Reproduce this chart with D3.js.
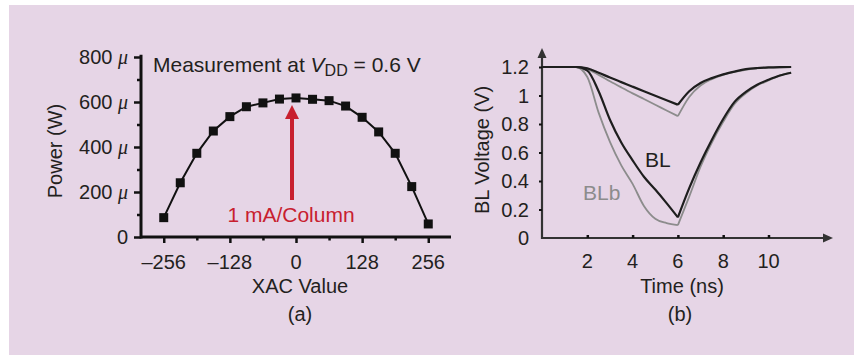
<!DOCTYPE html>
<html lang="en">
<head>
<meta charset="UTF-8">
<script src="https://d3js.org/d3.v7.min.js"></script>
<title>XAC power and BL voltage</title>
<style>
  body { margin: 0; background: #fff; }
  text { font-family: "Liberation Sans", Arial, Helvetica, sans-serif; fill: #231f20; font-size: 20px; }
</style>
</head>
<body>
<div id="chart"></div>
<script>
// ---- panel (a): measured power vs XAC value (uW) ----
var xacValues = [-256, -224, -192, -160, -128, -96, -64, -32, 0, 32, 64, 96, 128, 160, 192, 224, 256];
var powerValues = [86, 241, 372, 471, 535, 579, 596, 613, 618, 612, 606, 582, 532, 467, 372, 224, 58];
var powerTicks = [0, 200, 400, 600, 800];
var powerMinor = [100, 300, 500, 700];
var xacTicks = [-256, -128, 0, 128, 256];
var xacMinor = [-192, -64, 64, 192];

// ---- panel (b): BL / BLb transients (V) ----
var timeFall = [0, 1.5, 2, 2.5, 3, 3.5, 4, 4.5, 5, 5.5, 6];
var timeRise = [6, 6.5, 7, 7.5, 8, 8.5, 9, 9.5, 10, 10.5, 11];
var blSmallFall  = [1.2, 1.2, 1.19, 1.16, 1.126, 1.094, 1.062, 1.03, 0.998, 0.967, 0.935];
var blSmallRise  = [0.935, 1.03, 1.088, 1.122, 1.148, 1.168, 1.185, 1.193, 1.197, 1.199, 1.2];
var blbSmallFall = [1.2, 1.2, 1.185, 1.145, 1.1, 1.057, 1.015, 0.975, 0.935, 0.895, 0.855];
var blbSmallRise = [0.855, 0.99, 1.07, 1.115, 1.145, 1.165, 1.18, 1.19, 1.195, 1.198, 1.2];
var blLargeFall  = [1.2, 1.2, 1.175, 1.03, 0.83, 0.67, 0.545, 0.43, 0.34, 0.245, 0.145];
var blLargeRise  = [0.145, 0.35, 0.53, 0.69, 0.835, 0.955, 1.025, 1.075, 1.11, 1.14, 1.16];
var blbLargeFall = [1.2, 1.2, 1.13, 0.88, 0.675, 0.51, 0.38, 0.225, 0.135, 0.105, 0.09];
var blbLargeRise = [0.09, 0.29, 0.5, 0.67, 0.815, 0.94, 1.015, 1.07, 1.105, 1.14, 1.16];
var voltTicks = [0, 0.2, 0.4, 0.6, 0.8, 1, 1.2];
var timeTicks = [2, 4, 6, 8, 10];

var width = 859, height = 356;
var svg = d3.select("#chart").append("svg").attr("width", width).attr("height", height);

svg.append("rect").attr("x", 9).attr("y", 5).attr("width", 845).attr("height", 350)
    .attr("fill", "#e6d5e6");

//---------------- panel (a)
var xa = d3.scaleLinear().domain([-300, 300]).range([141, 451]);
var ya = d3.scaleLinear().domain([0, 800]).range([237, 57]);
var ga = svg.append("g");

// axis lines
ga.append("line").attr("x1", xa(-300)).attr("x2", xa(300)).attr("y1", ya(0)).attr("y2", ya(0))
    .attr("stroke", "#111").attr("stroke-width", 3);
ga.append("line").attr("x1", xa(-300)).attr("x2", xa(-300)).attr("y1", ya(0) + 1.5).attr("y2", ya(810))
    .attr("stroke", "#111").attr("stroke-width", 3);

// ticks via d3 axes, labels drawn after
function cleanAxis(g, w) {
    g.select(".domain").remove();
    g.selectAll(".tick line").attr("stroke", "#111").attr("stroke-width", w);
    g.selectAll(".tick text").remove();
}
ga.append("g").attr("transform", "translate(" + xa(-300) + ",0)")
    .call(d3.axisLeft(ya).tickValues(powerTicks).tickSize(7))
    .call(cleanAxis, 2.5);
ga.append("g").attr("transform", "translate(" + xa(-300) + ",0)")
    .call(d3.axisLeft(ya).tickValues(powerMinor).tickSize(4))
    .call(cleanAxis, 2.5);
ga.append("g").attr("transform", "translate(0," + ya(0) + ")")
    .call(d3.axisBottom(xa).tickValues(xacTicks).tickSize(6))
    .call(cleanAxis, 2.5);
ga.append("g").attr("transform", "translate(0," + ya(0) + ")")
    .call(d3.axisBottom(xa).tickValues(xacMinor).tickSize(3.5))
    .call(cleanAxis, 2.5);

// y tick labels with italic mu
powerTicks.forEach(function (v) {
    var t = ga.append("text").attr("x", 128).attr("y", ya(v) + 7).attr("text-anchor", "end");
    t.append("tspan").text(v === 0 ? "0" : v + " ");
    if (v !== 0) {
        t.append("tspan").attr("font-family", "Liberation Serif, Times New Roman, serif")
            .attr("font-style", "italic").text("\u03bc");
    }
});
xacTicks.forEach(function (v) {
    ga.append("text").attr("x", xa(v)).attr("y", 269).attr("text-anchor", "middle")
        .text(v < 0 ? "\u2013" + Math.abs(v) : v);
});

ga.append("text").attr("transform", "translate(62,151) rotate(-90)").attr("text-anchor", "middle")
    .text("Power (W)");
ga.append("text").attr("x", 300).attr("y", 293).attr("text-anchor", "middle").text("XAC Value");
ga.append("text").attr("x", 300).attr("y", 321).attr("text-anchor", "middle").text("(a)");

// data line + squares
var lineA = d3.line().x(function (d, i) { return xa(xacValues[i]); })
    .y(function (d) { return ya(d); });
ga.append("path").datum(powerValues).attr("d", lineA)
    .attr("fill", "none").attr("stroke", "#111").attr("stroke-width", 2);
ga.selectAll("rect.pt").data(powerValues).join("rect").attr("class", "pt")
    .attr("x", function (d, i) { return xa(xacValues[i]) - 4.5; })
    .attr("y", function (d) { return ya(d) - 4.5; })
    .attr("width", 9).attr("height", 9).attr("fill", "#111");

// title inside plot
var title = ga.append("text").attr("x", 153).attr("y", 72).style("font-size", "21px");
title.append("tspan").text("Measurement at ");
title.append("tspan").attr("font-style", "italic").text("V");
title.append("tspan").attr("font-size", "16px").attr("dy", 4).text("DD");
title.append("tspan").attr("dy", -4).text(" = 0.6 V");

// red arrow annotation
var red = "#c8202f";
ga.append("line").attr("x1", 292).attr("x2", 292).attr("y1", 200).attr("y2", 116)
    .attr("stroke", red).attr("stroke-width", 4);
ga.append("path").attr("d", "M292,105 L299,119 L285,119 Z").attr("fill", red);
ga.append("text").attr("x", 291).attr("y", 222).attr("text-anchor", "middle")
    .style("fill", red).style("font-size", "21px").text("1 mA/Column");

//---------------- panel (b)
var xb = d3.scaleLinear().domain([0, 12]).range([542, 542 + 12 * 22.65]);
var yb = d3.scaleLinear().domain([0, 1.2]).range([238, 67]);
var gb = svg.append("g");
var axisCol = "#333";

gb.append("line").attr("x1", xb(0)).attr("x2", xb(12.45)).attr("y1", yb(0)).attr("y2", yb(0))
    .attr("stroke", axisCol).attr("stroke-width", 2.2);
gb.append("line").attr("x1", xb(0)).attr("x2", xb(0)).attr("y1", yb(0) + 1).attr("y2", yb(1.27))
    .attr("stroke", axisCol).attr("stroke-width", 2.2);
gb.append("path").attr("d", "M" + (xb(12.45) + 9) + "," + yb(0) + " l-10,-4.5 l0,9 Z").attr("fill", axisCol);
gb.append("path").attr("d", "M" + xb(0) + "," + (yb(1.27) - 9) + " l-4.5,10 l9,0 Z").attr("fill", axisCol);

gb.append("g").attr("transform", "translate(0," + yb(0) + ")")
    .call(d3.axisTop(xb).tickValues(timeTicks).tickSize(3))
    .call(cleanAxis, 2.5);
gb.append("g").attr("transform", "translate(" + xb(0) + ",0)")
    .call(d3.axisLeft(yb).tickValues(voltTicks.slice(1)).tickSize(3))
    .call(cleanAxis, 2);

voltTicks.forEach(function (v) {
    gb.append("text").attr("x", 529).attr("y", yb(v) + 7).attr("text-anchor", "end").text(v);
});
timeTicks.forEach(function (v) {
    gb.append("text").attr("x", xb(v)).attr("y", 268).attr("text-anchor", "middle").text(v);
});
gb.append("text").attr("transform", "translate(489,150) rotate(-90)").attr("text-anchor", "middle")
    .text("BL Voltage (V)");
gb.append("text").attr("x", 682).attr("y", 293).attr("text-anchor", "middle").text("Time (ns)");
gb.append("text").attr("x", 680).attr("y", 321).attr("text-anchor", "middle").text("(b)");

function drawCurve(times, volts, color, w) {
    var line = d3.line().curve(d3.curveMonotoneX)
        .x(function (d, i) { return xb(times[i]); })
        .y(function (d) { return yb(d); });
    gb.append("path").datum(volts).attr("d", line)
        .attr("fill", "none").attr("stroke", color).attr("stroke-width", w)
        .attr("stroke-linejoin", "round");
}
var gray = "#8c8c8c", dark = "#1e1e1e";
drawCurve(timeFall, blbSmallFall, gray, 1.8);
drawCurve(timeRise, blbSmallRise, gray, 1.8);
drawCurve(timeFall, blbLargeFall, gray, 1.8);
drawCurve(timeRise, blbLargeRise, gray, 1.8);
drawCurve(timeFall, blSmallFall, dark, 2.2);
drawCurve(timeRise, blSmallRise, dark, 2.2);
drawCurve(timeFall, blLargeFall, dark, 2.2);
drawCurve(timeRise, blLargeRise, dark, 2.2);

gb.append("text").attr("x", 645).attr("y", 167).style("font-size", "21px").text("BL");
gb.append("text").attr("x", 583).attr("y", 200).style("fill", gray).style("font-size", "21px").text("BLb");
</script>
</body>
</html>
